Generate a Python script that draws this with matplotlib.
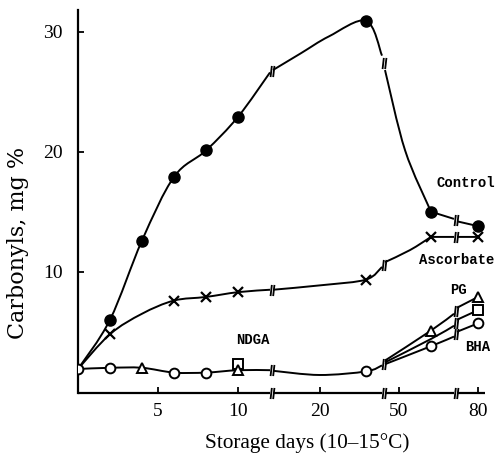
import numpy as np
import matplotlib
matplotlib.use('Agg')
import matplotlib.pyplot as plt
from matplotlib.path import Path
from matplotlib.patches import PathPatch

# broken x axis: storage days -> drawing units, the axis is cut at 12/15, 26.7/45.6, 67.2/74.75
day_bp = [0, 12, 15, 26.7, 45.6, 67.2, 74.75, 82.75]
pos_bp = [0, 192, 195, 304, 307, 376, 379, 411]

x_ticks = [5, 10, 20, 50, 80]
y_ticks = [10, 20, 30]

# plotted points
control_days = [2, 4, 6, 8, 10, 25, 60, 80]
control_vals = [6.0, 12.6, 17.9, 20.1, 22.9, 30.9, 15.0, 13.8]
ascorbate_days = [2, 6, 8, 10, 25, 60, 80]
ascorbate_vals = [4.8, 7.6, 7.9, 8.3, 9.3, 12.9, 12.9]
bha_days = [0, 2, 6, 8, 25, 60, 80]
bha_vals = [1.9, 2.0, 1.6, 1.6, 1.7, 3.8, 5.7]
pg_days = [4, 10, 60, 80]
pg_vals = [2.0, 1.8, 5.1, 7.9]
ndga_days = [10, 80]
ndga_vals = [2.3, 6.8]

# hand drawn curves (day, value), one list per piece between the breaks
# a repeated knot means a corner
control_line = [
    [(0, 1.9), (2, 6.0), (4, 12.6), (6, 17.9), (8, 20.1), (10, 22.9), (12, 26.6)],
    [(15, 26.8), (18, 28.2), (21, 29.6), (25, 30.9), (26.7, 28.0)],
    [(45.6, 26.8), (51.9, 20.1), (60, 15.0), (60, 15.0), (67.2, 14.4)],
    [(74.75, 14.2), (80, 13.8)],
]
ascorbate_line = [
    [(0, 1.9), (2, 4.8), (4, 6.5), (6, 7.6), (8, 7.9), (10, 8.3), (12, 8.5)],
    [(15, 8.5), (20.5, 8.9), (25, 9.35), (26.7, 10.4)],
    [(45.6, 10.8), (53.4, 11.8), (60, 12.9), (60, 12.9), (67.2, 12.9)],
    [(74.75, 12.9), (80, 12.9)],
]
base_line = [
    [(0, 1.9), (2, 2.0), (4, 2.0), (6, 1.6), (8, 1.6), (10, 1.8), (12, 1.8)],
    [(15, 1.75), (20, 1.4), (25, 1.7), (26.7, 2.2)],
]
pg_line = [[(45.6, 2.6), (60, 5.1), (67.2, 6.5)], [(74.75, 7.0), (80, 7.9)]]
ndga_line = [[(45.6, 2.45), (60, 4.4), (67.2, 5.5)], [(74.75, 6.0), (80, 6.8)]]
bha_line = [[(45.6, 2.3), (60, 3.8), (67.2, 4.6)], [(74.75, 5.0), (80, 5.7)]]


def fwd(d):
    return np.interp(d, day_bp, pos_bp)

def inv(p):
    return np.interp(p, pos_bp, day_bp)


serif = 'Liberation Serif'
mono = 'Liberation Mono'

fig = plt.figure(figsize=(4.99, 4.61), dpi=100)
ax = fig.add_axes([78 / 499, 68 / 461, 407 / 499, 383 / 461])
ax.set_xscale('function', functions=(fwd, inv))
ax.set_xlim(0, 81.75)
ax.set_ylim(-0.1, 31.8)

for s in ['top', 'right', 'bottom']:
    ax.spines[s].set_visible(False)
ax.spines['left'].set_linewidth(1.6)

ax.set_xticks(x_ticks)
ax.set_xticklabels([str(t) for t in x_ticks], fontfamily=serif, fontsize=14)
ax.set_yticks(y_ticks)
ax.set_yticklabels([str(t) for t in y_ticks], fontfamily=serif, fontsize=14)
ax.tick_params(direction='in', length=4, width=1.3, pad=7)
ax.tick_params(axis='y', pad=11)
ax.xaxis.set_minor_locator(matplotlib.ticker.NullLocator())

brk = Path([(-0.35, -1), (-0.12, 1), (0.12, -1), (0.35, 1)],
           [Path.MOVETO, Path.LINETO, Path.MOVETO, Path.LINETO])


def stroke(P):
    n = len(P)
    if n < 2:
        return
    ext = np.vstack([P[0], P, P[-1]])
    verts = [P[0]]
    codes = [Path.MOVETO]
    for i in range(n - 1):
        p0, p1, p2, p3 = ext[i], ext[i + 1], ext[i + 2], ext[i + 3]
        verts += [p1 + (p2 - p0) / 6, p2 - (p3 - p1) / 6, p2]
        codes += [Path.CURVE4] * 3
    ax.add_patch(PathPatch(Path(verts, codes), fill=False, lw=1.4, ec='black',
                           transform=ax.transLimits + ax.transAxes, zorder=2))


def curve(knots):
    P = ax.transScale.transform(np.array(knots, float))
    start = 0
    for i in range(1, len(P)):
        if np.allclose(P[i], P[i - 1]):
            stroke(P[start:i])
            start = i
    stroke(P[start:])


def break_mark(a, b, trans=None):
    xc = inv((fwd(a[0]) + fwd(b[0])) / 2)
    yc = (a[1] + b[1]) / 2
    ax.plot([xc], [yc], marker=brk, ms=8, mew=1.3, color='black', ls='none',
            transform=trans if trans is not None else ax.transData,
            clip_on=False, zorder=3)


def draw(pieces):
    for i, piece in enumerate(pieces):
        curve(piece)
        if i > 0:
            break_mark(pieces[i - 1][-1], piece[0])


draw(control_line)
draw(ascorbate_line)
draw(base_line)
draw(pg_line)
draw(ndga_line)
draw(bha_line)
break_mark(base_line[-1][-1], ndga_line[0][0])

# x axis line with its breaks
xt = ax.get_xaxis_transform()
axis_pieces = [(0, 12), (15, 26.7), (45.6, 67.2), (74.75, 81.75)]
for i, (a, b) in enumerate(axis_pieces):
    ax.plot([a, b], [0, 0], color='black', lw=1.6, transform=xt, clip_on=False,
            solid_capstyle='butt')
    if i > 0:
        break_mark((axis_pieces[i - 1][1], 0), (a, 0), trans=xt)

ax.plot(control_days, control_vals, 'o', color='black', ms=8, zorder=4)
ax.plot(ascorbate_days, ascorbate_vals, 'x', color='black', ms=7, mew=1.6, zorder=4)
ax.plot(bha_days, bha_vals, 'o', mfc='white', mec='black', ms=7, mew=1.4, zorder=4)
ax.plot(ndga_days, ndga_vals, 's', mfc='white', mec='black', ms=6.5, mew=1.4, zorder=4)
ax.plot(pg_days, pg_vals, '^', mfc='white', mec='black', ms=7, mew=1.4, zorder=5)

lab = dict(fontfamily=mono, fontweight='bold', fontsize=10, ha='center', va='center',
           transform=ax.transAxes)
ax.text(0.953, 0.548, 'Control', **lab)
ax.text(0.931, 0.347, 'Ascorbate', **lab)
ax.text(0.936, 0.269, 'PG', **lab)
ax.text(0.983, 0.120, 'BHA', **lab)
ax.text(0.429, 0.138, 'NDGA', **lab)

fig.text(307 / 499, 1 - 443 / 461, 'Storage days (10–15°C)', fontfamily=serif,
         fontsize=15.3, ha='center', va='center')
fig.text(18 / 499, 1 - 243 / 461, 'Carbonyls, mg %', fontfamily='DejaVu Serif',
         fontsize=16, rotation=90, ha='center', va='center')

fig.savefig('out.png', dpi=100)
